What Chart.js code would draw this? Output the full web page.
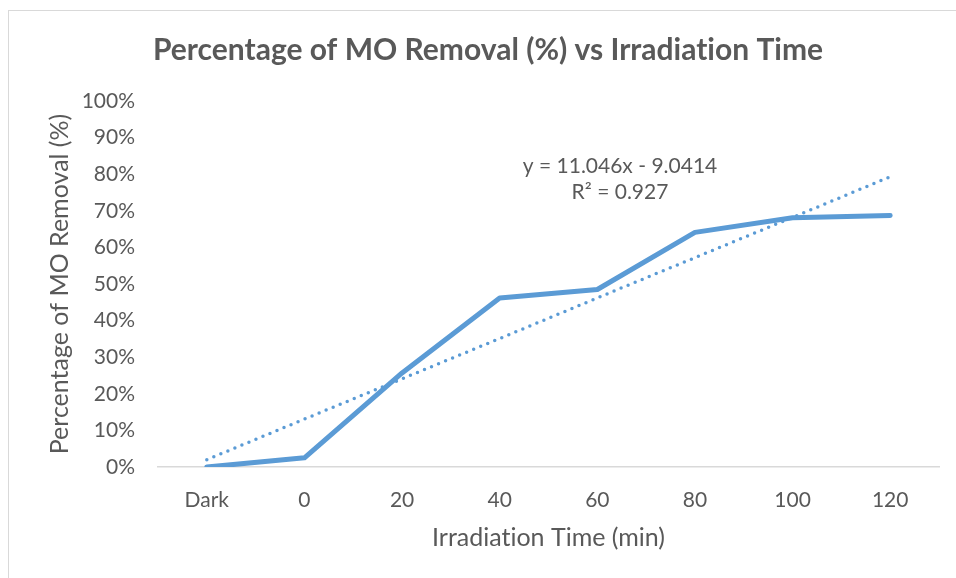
<!DOCTYPE html>
<html>
<head>
<meta charset="utf-8">
<script src="https://cdn.jsdelivr.net/npm/chart.js@4.4.0/dist/chart.umd.min.js"></script>
<style>
  html, body { margin: 0; padding: 0; background: #fff; }
  #wrap { position: relative; width: 956px; height: 578px; overflow: hidden; }
  #frame { position: absolute; left: 8px; top: 10px; width: 1000px; height: 700px; border: 1px solid #d9d9d9; box-sizing: border-box; }
  canvas { position: absolute; left: 0; top: 0; }
</style>
</head>
<body>
<div id="wrap">
  <div id="frame"></div>
  <canvas id="chart" width="956" height="578"></canvas>
</div>
<script>
// Data
const categories = ['Dark', '0', '20', '40', '60', '80', '100', '120'];
const removal = [0, 2.5, 25.7, 46.2, 48.5, 64.1, 68.1, 68.7];
const trendline = [2.0, 13.1, 24.1, 35.1, 46.2, 57.2, 68.2, 79.3];
const yTicks = [0, 10, 20, 30, 40, 50, 60, 70, 80, 90, 100];
const equationLines = ['y = 11.046x - 9.0414', 'R\u00b2 = 0.927'];

const textColor = '#595959';
const lineColor = '#5b9bd5';
const fontFamily = 'Lato, "Open Sans", sans-serif';

// No "ti" ligatures, like the original
const plainText = {
    id: 'plainText',
    beforeDraw(chart) {
        chart.ctx.textRendering = 'optimizeSpeed';
    }
};

// Draws the chart title and the trendline equation
const overlayText = {
    id: 'overlayText',
    afterDraw(chart) {
        const ctx = chart.ctx;
        ctx.save();
        ctx.textRendering = 'optimizeSpeed';
        ctx.fillStyle = textColor;
        ctx.textAlign = 'center';
        ctx.textBaseline = 'middle';
        ctx.font = 'bold 30px ' + fontFamily;
        ctx.fillText('Percentage of MO Removal (%) vs Irradiation Time', 488, 50);
        ctx.font = '21px ' + fontFamily;
        ctx.fillText(equationLines[0], 620, 166);
        ctx.fillText(equationLines[1], 620, 192);
        ctx.restore();
    }
};

const ctx = document.getElementById('chart').getContext('2d');
new Chart(ctx, {
    type: 'line',
    data: {
        labels: categories,
        datasets: [
            {
                label: 'Removal',
                data: removal,
                borderColor: lineColor,
                borderWidth: 5,
                pointRadius: 0,
                tension: 0,
                borderJoinStyle: 'round',
                borderCapStyle: 'round'
            },
            {
                label: 'Linear trend',
                data: trendline,
                borderColor: lineColor,
                borderWidth: 3.5,
                borderDash: [0, 7.6],
                borderCapStyle: 'round',
                pointRadius: 0,
                tension: 0
            }
        ]
    },
    options: {
        responsive: false,
        animation: false,
        layout: { padding: { top: 101, right: 17, bottom: 0, left: 0 } },
        plugins: {
            legend: { display: false },
            tooltip: { enabled: false },
            title: { display: false }
        },
        scales: {
            x: {
                offset: true,
                grid: { display: false, drawTicks: false },
                border: { display: true, color: '#d9d9d9', width: 1.5 },
                ticks: { color: textColor, padding: 21, font: { family: fontFamily, size: 21 } },
                title: {
                    display: true,
                    text: 'Irradiation Time (min)',
                    color: textColor,
                    font: { family: fontFamily, size: 25 },
                    padding: { top: 0, bottom: 25 }
                },
                afterFit(scale) { scale.height = 111; }
            },
            y: {
                min: 0,
                max: 100,
                afterBuildTicks(scale) { scale.ticks = yTicks.map(v => ({ value: v })); },
                grid: { display: false, drawTicks: false },
                border: { display: false },
                ticks: {
                    color: textColor,
                    padding: 23,
                    font: { family: fontFamily, size: 21 },
                    callback: v => v + '%'
                },
                title: {
                    display: true,
                    text: 'Percentage of MO Removal (%)',
                    color: textColor,
                    font: { family: fontFamily, size: 25 },
                    padding: { top: 45, bottom: 0 }
                },
                afterFit(scale) { scale.width = 158; }
            }
        }
    },
    plugins: [plainText, overlayText]
});
</script>
</body>
</html>
